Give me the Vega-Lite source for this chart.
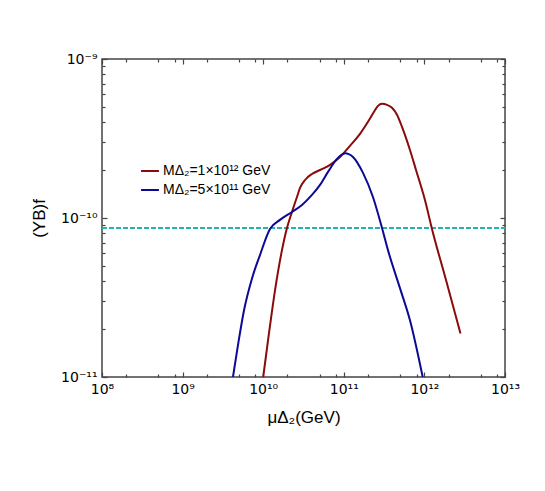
{
  "$schema": "https://vega.github.io/schema/vega-lite/v6.json",
  "autosize": {"type": "none"},
  "width": 403,
  "height": 318,
  "padding": {"left": 102, "top": 59, "right": 40, "bottom": 114},
  "background": "white",
  "config": {
    "view": {"stroke": "#444", "strokeWidth": 1.5},
    "font": "Liberation Sans",
    "axis": {"grid": false, "domain": false, "tickColor": "#444", "tickWidth": 1.2, "labelColor": "black", "titleColor": "black", "labelFont": "DejaVu Sans", "titleFont": "Liberation Sans", "titleFontWeight": "normal"}
  },
  "datasets": {
    "curves": [
      {"mu": 1.0e10, "Y": 1.0e-11, "series": "MΔ₂=1×10¹² GeV"},
      {"mu": 1.148e10, "Y": 1.70e-11, "series": "MΔ₂=1×10¹² GeV"},
      {"mu": 1.403e10, "Y": 3.52e-11, "series": "MΔ₂=1×10¹² GeV"},
      {"mu": 1.710e10, "Y": 6.28e-11, "series": "MΔ₂=1×10¹² GeV"},
      {"mu": 1.972e10, "Y": 8.65e-11, "series": "MΔ₂=1×10¹² GeV"},
      {"mu": 2.275e10, "Y": 1.091e-10, "series": "MΔ₂=1×10¹² GeV"},
      {"mu": 2.624e10, "Y": 1.355e-10, "series": "MΔ₂=1×10¹² GeV"},
      {"mu": 2.864e10, "Y": 1.545e-10, "series": "MΔ₂=1×10¹² GeV"},
      {"mu": 3.304e10, "Y": 1.734e-10, "series": "MΔ₂=1×10¹² GeV"},
      {"mu": 4.027e10, "Y": 1.892e-10, "series": "MΔ₂=1×10¹² GeV"},
      {"mu": 5.070e10, "Y": 2.004e-10, "series": "MΔ₂=1×10¹² GeV"},
      {"mu": 6.745e10, "Y": 2.158e-10, "series": "MΔ₂=1×10¹² GeV"},
      {"mu": 8.974e10, "Y": 2.421e-10, "series": "MΔ₂=1×10¹² GeV"},
      {"mu": 1.194e11, "Y": 2.844e-10, "series": "MΔ₂=1×10¹² GeV"},
      {"mu": 1.589e11, "Y": 3.381e-10, "series": "MΔ₂=1×10¹² GeV"},
      {"mu": 1.995e11, "Y": 4.027e-10, "series": "MΔ₂=1×10¹² GeV"},
      {"mu": 2.371e11, "Y": 4.656e-10, "series": "MΔ₂=1×10¹² GeV"},
      {"mu": 2.655e11, "Y": 5.07e-10, "series": "MΔ₂=1×10¹² GeV"},
      {"mu": 2.979e11, "Y": 5.224e-10, "series": "MΔ₂=1×10¹² GeV"},
      {"mu": 3.436e11, "Y": 5.15e-10, "series": "MΔ₂=1×10¹² GeV"},
      {"mu": 3.963e11, "Y": 4.932e-10, "series": "MΔ₂=1×10¹² GeV"},
      {"mu": 4.571e11, "Y": 4.46e-10, "series": "MΔ₂=1×10¹² GeV"},
      {"mu": 5.272e11, "Y": 3.741e-10, "series": "MΔ₂=1×10¹² GeV"},
      {"mu": 6.622e11, "Y": 2.679e-10, "series": "MΔ₂=1×10¹² GeV"},
      {"mu": 7.870e11, "Y": 2.004e-10, "series": "MΔ₂=1×10¹² GeV"},
      {"mu": 1.016e12, "Y": 1.297e-10, "series": "MΔ₂=1×10¹² GeV"},
      {"mu": 1.242e12, "Y": 8.53e-11, "series": "MΔ₂=1×10¹² GeV"},
      {"mu": 1.854e12, "Y": 4.07e-11, "series": "MΔ₂=1×10¹² GeV"},
      {"mu": 2.8e12, "Y": 1.88e-11, "series": "MΔ₂=1×10¹² GeV"},
      {"mu": 4.217e9, "Y": 1.0e-11, "series": "MΔ₂=5×10¹¹ GeV"},
      {"mu": 4.864e9, "Y": 1.585e-11, "series": "MΔ₂=5×10¹¹ GeV"},
      {"mu": 5.781e9, "Y": 2.630e-11, "series": "MΔ₂=5×10¹¹ GeV"},
      {"mu": 7.261e9, "Y": 4.169e-11, "series": "MΔ₂=5×10¹¹ GeV"},
      {"mu": 9.120e9, "Y": 5.848e-11, "series": "MΔ₂=5×10¹¹ GeV"},
      {"mu": 1.213e10, "Y": 8.53e-11, "series": "MΔ₂=5×10¹¹ GeV"},
      {"mu": 1.614e10, "Y": 9.73e-11, "series": "MΔ₂=5×10¹¹ GeV"},
      {"mu": 2.275e10, "Y": 1.091e-10, "series": "MΔ₂=5×10¹¹ GeV"},
      {"mu": 3.027e10, "Y": 1.208e-10, "series": "MΔ₂=5×10¹¹ GeV"},
      {"mu": 4.027e10, "Y": 1.396e-10, "series": "MΔ₂=5×10¹¹ GeV"},
      {"mu": 5.070e10, "Y": 1.614e-10, "series": "MΔ₂=5×10¹¹ GeV"},
      {"mu": 6.368e10, "Y": 1.950e-10, "series": "MΔ₂=5×10¹¹ GeV"},
      {"mu": 8.241e10, "Y": 2.355e-10, "series": "MΔ₂=5×10¹¹ GeV"},
      {"mu": 9.550e10, "Y": 2.510e-10, "series": "MΔ₂=5×10¹¹ GeV"},
      {"mu": 1.047e11, "Y": 2.550e-10, "series": "MΔ₂=5×10¹¹ GeV"},
      {"mu": 1.150e11, "Y": 2.520e-10, "series": "MΔ₂=5×10¹¹ GeV"},
      {"mu": 1.300e11, "Y": 2.421e-10, "series": "MΔ₂=5×10¹¹ GeV"},
      {"mu": 1.730e11, "Y": 1.923e-10, "series": "MΔ₂=5×10¹¹ GeV"},
      {"mu": 2.301e11, "Y": 1.355e-10, "series": "MΔ₂=5×10¹¹ GeV"},
      {"mu": 2.979e11, "Y": 8.65e-11, "series": "MΔ₂=5×10¹¹ GeV"},
      {"mu": 3.532e11, "Y": 6.28e-11, "series": "MΔ₂=5×10¹¹ GeV"},
      {"mu": 4.977e11, "Y": 3.62e-11, "series": "MΔ₂=5×10¹¹ GeV"},
      {"mu": 6.622e11, "Y": 2.275e-11, "series": "MΔ₂=5×10¹¹ GeV"},
      {"mu": 9.528e11, "Y": 1.0e-11, "series": "MΔ₂=5×10¹¹ GeV"}
    ],
    "obs": [
      {"mu": 1e8, "Y": 8.65e-11},
      {"mu": 1e13, "Y": 8.65e-11}
    ]
  },
  "layer": [
    {
      "data": {"name": "obs"},
      "mark": {"type": "line", "color": "#22B5AE", "strokeWidth": 2, "strokeDash": [5, 2], "clip": true},
      "encoding": {
        "x": {"field": "mu", "type": "quantitative", "scale": {"type": "log", "domain": [1e8, 1e13]},
          "axis": {"orient": "top", "labels": false, "title": null,
            "values": [1e8, 2e8, 5e8, 8e8, 1e9, 2e9, 5e9, 8e9, 1e10, 2e10, 5e10, 8e10, 1e11, 2e11, 5e11, 8e11, 1e12, 2e12, 5e12, 8e12, 1e13],
            "tickSize": {"condition": {"test": "abs(log(datum.value)/LN10 - round(log(datum.value)/LN10)) < 0.001", "value": -5}, "value": -3}}},
        "y": {"field": "Y", "type": "quantitative", "scale": {"type": "log", "domain": [1e-11, 1e-9]},
          "axis": {"orient": "right", "labels": false, "title": null,
            "values": [1e-11, 2e-11, 3e-11, 4e-11, 5e-11, 6e-11, 7e-11, 8e-11, 9e-11, 1e-10, 2e-10, 3e-10, 4e-10, 5e-10, 6e-10, 7e-10, 8e-10, 9e-10, 1e-9],
            "tickSize": {"condition": {"test": "abs(log(datum.value)/LN10 - round(log(datum.value)/LN10)) < 0.001", "value": -5}, "value": -3}}}
      }
    },
    {
      "data": {"name": "curves"},
      "mark": {"type": "line", "strokeWidth": 2, "interpolate": "monotone", "clip": true},
      "encoding": {
        "x": {"field": "mu", "type": "quantitative", "scale": {"type": "log", "domain": [1e8, 1e13]},
          "axis": {"orient": "bottom", "title": "μΔ₂(GeV)", "titleFontSize": 17, "titlePadding": 13, "labelFontSize": 14, "labelPadding": 10, "labelFlush": false,
            "values": [1e8, 2e8, 5e8, 8e8, 1e9, 2e9, 5e9, 8e9, 1e10, 2e10, 5e10, 8e10, 1e11, 2e11, 5e11, 8e11, 1e12, 2e12, 5e12, 8e12, 1e13],
            "labelExpr": "datum.value==1e8?'10⁸':datum.value==1e9?'10⁹':datum.value==1e10?'10¹⁰':datum.value==1e11?'10¹¹':datum.value==1e12?'10¹²':datum.value==1e13?'10¹³':''",
            "tickSize": {"condition": {"test": "abs(log(datum.value)/LN10 - round(log(datum.value)/LN10)) < 0.001", "value": -5}, "value": -3}}},
        "y": {"field": "Y", "type": "quantitative", "scale": {"type": "log", "domain": [1e-11, 1e-9]},
          "axis": {"orient": "left", "title": "(YB)f", "titleFontSize": 17, "titlePadding": 12, "labelFontSize": 14, "labelPadding": 10, "labelFlush": false,
            "values": [1e-11, 2e-11, 3e-11, 4e-11, 5e-11, 6e-11, 7e-11, 8e-11, 9e-11, 1e-10, 2e-10, 3e-10, 4e-10, 5e-10, 6e-10, 7e-10, 8e-10, 9e-10, 1e-9],
            "labelExpr": "datum.value==1e-9?'10⁻⁹':datum.value==1e-10?'10⁻¹⁰':datum.value==1e-11?'10⁻¹¹':''",
            "tickSize": {"condition": {"test": "abs(log(datum.value)/LN10 - round(log(datum.value)/LN10)) < 0.001", "value": -5}, "value": -3}}},
        "color": {"field": "series", "type": "nominal",
          "scale": {"domain": ["MΔ₂=1×10¹² GeV", "MΔ₂=5×10¹¹ GeV"], "range": ["#8B0A0A", "#0A0A96"]},
          "legend": {"title": null, "orient": "none", "legendX": 38, "legendY": 102, "symbolType": "stroke", "symbolSize": 320, "symbolStrokeWidth": 2, "labelFontSize": 14, "labelFont": "Liberation Sans", "labelColor": "black", "rowPadding": 2, "labelOffset": 3}}
      }
    }
  ]
}
